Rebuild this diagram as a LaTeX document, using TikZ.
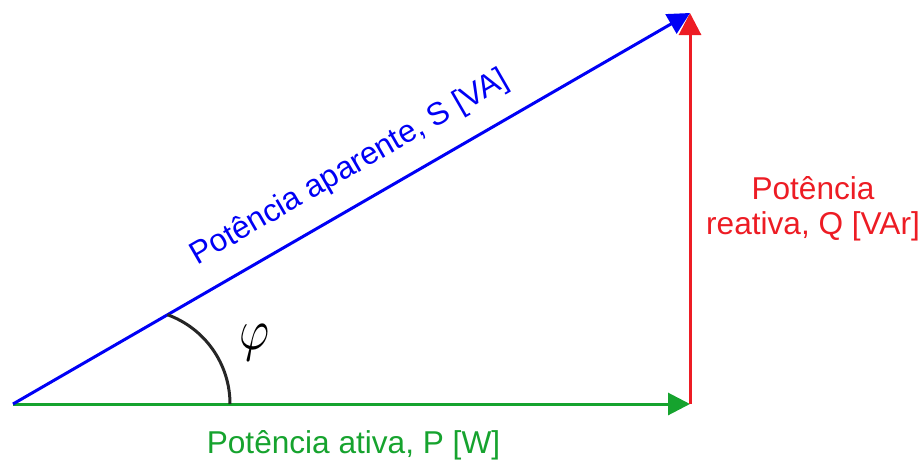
\documentclass[tikz,border=0pt]{standalone}
\usepackage{fontspec}
\setmainfont{Liberation Sans}
\usetikzlibrary{arrows.meta}
\definecolor{vecblue}{RGB}{0,0,245}
\definecolor{vecred}{RGB}{237,28,36}
\definecolor{vecgreen}{RGB}{22,163,46}
\tikzset{
  vec/.style={line width=3pt,-{Triangle[length=22pt,width=22pt]}},
  lbl/.style={font=\fontsize{31.6}{35}\selectfont,align=center,inner sep=0pt}
}
\begin{document}
\begin{tikzpicture}[x=1pt,y=-1pt]
  \useasboundingbox (0,0) rectangle (923,461);
  % corners of the power triangle
  \coordinate (O) at (13,404);
  \coordinate (P) at (690,404);
  \coordinate (S) at (690,13);
  \draw[vec,vecgreen] (O) -- (P);
  \draw[vec,vecred] (P) -- (S);
  \draw[vec,vecblue] (O) -- (S);
  % angle
  \coordinate (A) at (230,404);
  \draw[line width=3pt,black!85] (A) arc[start angle=0,end angle=70,radius=95pt];
  \node (phi) at (255,343) {\scalebox{4.6}[5.8]{$\varphi$}};
  % labels
  \node[lbl,text=vecgreen,anchor=base] (lP) at (353.5,453) {Potência ativa, P [W]};
  \node[lbl,text=vecred] (lQ) at (813,209) {Potência\\reativa, Q [VAr]};
  \node[lbl,text=vecblue,rotate=30,anchor=base] (lS) at (354,175) {Potência aparente, S [VA]};
\end{tikzpicture}
\end{document}
